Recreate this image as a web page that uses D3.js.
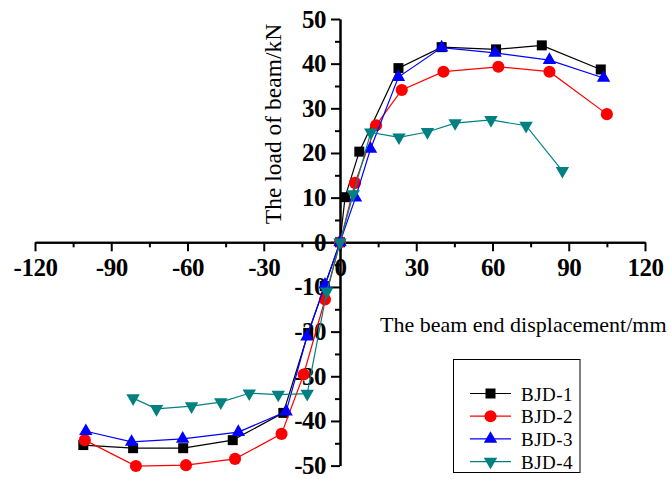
<!DOCTYPE html>
<html>
<head>
<meta charset="utf-8">
<script src="https://cdn.jsdelivr.net/npm/d3@7"></script>
<style>
  body { margin: 0; background: #fff; }
  .tick text { font-family: "Liberation Serif", "Times New Roman", serif; font-weight: bold; font-size: 25px; letter-spacing: -0.5px; }
  .title { font-family: "Liberation Serif", "Times New Roman", serif; font-size: 22px; }
  .legend text { font-family: "Liberation Serif", "Times New Roman", serif; font-size: 19px; letter-spacing: 0.5px; }
</style>
</head>
<body>
<div id="chart"></div>
<script>
// series names and colours
var seriesNames = ["BJD-1", "BJD-2", "BJD-3", "BJD-4"];
var seriesColors = ["#000000", "#ff0000", "#0000ff", "#008080"];

// [displacement, load]
var bjd1 = [[-101, -45.4], [-81.4, -46.1], [-61.7, -46.1], [-42.2, -44.3], [-22.3, -38.2], [-12.5, -20.3], [-6, -9.8],
  [0, 0], [2, 10.1], [7.6, 20.3], [23, 39], [40, 43.7], [61.4, 43.2], [79.4, 44.1], [102.6, 38.7]];
var bjd2 = [[-100.4, -44.3], [-80.3, -50.1], [-60.6, -49.9], [-41.3, -48.5], [-23, -42.9], [-14.3, -29.6], [-5.9, -12.8],
  [0, 0], [5.9, 13.3], [14.2, 26.2], [24.3, 34.1], [40.7, 38.2], [62.3, 39.3], [82.4, 38.2], [105, 28.7]];
var bjd3 = [[-100, -42.3], [-82, -44.7], [-61.9, -44], [-40, -42.5], [-21.2, -37.9], [-13, -21.1], [-5.9, -9.5],
  [0, 0], [6.1, 10], [12, 20.9], [23, 37], [40, 43.6], [61, 42.4], [82.4, 40.8], [103.7, 36.8]];
var bjd4 = [[-81.4, -34.9], [-72.2, -37.3], [-58.4, -36.7], [-46.9, -35.8], [-35.7, -33.8], [-24.3, -34.1], [-12.9, -33.9], [-5.2, -11],
  [0, 0], [5.2, 10.8], [12.1, 24.6], [23.2, 23.5], [34.4, 24.7], [45.3, 26.7], [59.4, 27.4], [73.2, 26.1], [87.5, 16]];
var allSeries = [bjd1, bjd2, bjd3, bjd4];

// axis ticks
var xMajor = [-120, -90, -60, -30, 0, 30, 60, 90, 120];
var xMinor = [-105, -75, -45, -15, 15, 45, 75, 105];
var yMajor = [-50, -40, -30, -20, -10, 0, 10, 20, 30, 40, 50];
var yMinor = [-45, -35, -25, -15, -5, 5, 15, 25, 35, 45];

var width = 670, height = 479;

var svg = d3.select("#chart").append("svg")
  .attr("width", width)
  .attr("height", height);

var x = d3.scaleLinear().domain([-120, 120]).range([35, 645]);
var y = d3.scaleLinear().domain([-50, 50]).range([465.6, 19]);

/*----------------------
AXES
----------------------*/
svg.append("g")
  .attr("transform", `translate(0,${y(0)})`)
  .call(d3.axisBottom(x).tickValues(xMajor).tickSize(9).tickSizeOuter(0).tickPadding(7).tickFormat(d => String(d)));
svg.append("g")
  .attr("transform", `translate(0,${y(0)})`)
  .call(d3.axisBottom(x).tickValues(xMinor).tickSize(5).tickSizeOuter(0).tickFormat(""));

svg.append("g")
  .attr("transform", `translate(${x(0)},0)`)
  .call(d3.axisLeft(y).tickValues(yMajor).tickSize(9).tickSizeOuter(0).tickPadding(5).tickFormat(d => String(d)));
svg.append("g")
  .attr("transform", `translate(${x(0)},0)`)
  .call(d3.axisLeft(y).tickValues(yMinor).tickSize(5).tickSizeOuter(0).tickFormat(""));

svg.selectAll(".domain, .tick line")
  .attr("stroke", "#000")
  .attr("stroke-width", 2);
svg.selectAll(".tick text").attr("fill", "#000");

// axis titles
svg.append("text")
  .attr("class", "title")
  .attr("text-anchor", "middle")
  .style("font-size", "23.5px")
  .attr("transform", "translate(281,124) rotate(-90)")
  .text("The load of beam/kN");

svg.append("text")
  .attr("class", "title")
  .attr("x", 380)
  .attr("y", 332)
  .text("The beam end displacement/mm");

/*----------------------
SERIES
----------------------*/
var symbols = [
  d3.symbol().type(d3.symbolSquare).size(100),
  d3.symbol().type(d3.symbolCircle).size(115),
  d3.symbol().type(d3.symbolTriangle).size(78),
  d3.symbol().type(d3.symbolTriangle).size(78)
];
var rotations = [0, 0, 0, 180];

var line = d3.line().x(d => x(d[0])).y(d => y(d[1]));

allSeries.forEach(function (series, i) {
  svg.append("path")
    .datum(series)
    .attr("fill", "none")
    .attr("stroke", seriesColors[i])
    .attr("stroke-width", 1.2)
    .attr("d", line);

  svg.append("g").selectAll("path")
    .data(series)
    .join("path")
    .attr("transform", d => `translate(${x(d[0])},${y(d[1])}) rotate(${rotations[i]})`)
    .attr("fill", seriesColors[i])
    .attr("d", symbols[i]);
});

/*----------------------
LEGEND
----------------------*/
var legend = svg.append("g").attr("class", "legend");

legend.append("rect")
  .attr("x", 453.5)
  .attr("y", 359.5)
  .attr("width", 126.5)
  .attr("height", 113)
  .attr("fill", "#fff")
  .attr("stroke", "#000")
  .attr("stroke-width", 1);

seriesNames.forEach(function (name, i) {
  var ly = 393.5 + i * 22.7;
  legend.append("line")
    .attr("x1", 470).attr("x2", 511)
    .attr("y1", ly).attr("y2", ly)
    .attr("stroke", seriesColors[i])
    .attr("stroke-width", 1.2);
  legend.append("path")
    .attr("transform", `translate(490.5,${ly}) rotate(${rotations[i]})`)
    .attr("fill", seriesColors[i])
    .attr("d", symbols[i]);
  legend.append("text")
    .attr("x", 521)
    .attr("y", ly + 7)
    .attr("fill", "#000")
    .text(name);
});
</script>
</body>
</html>
